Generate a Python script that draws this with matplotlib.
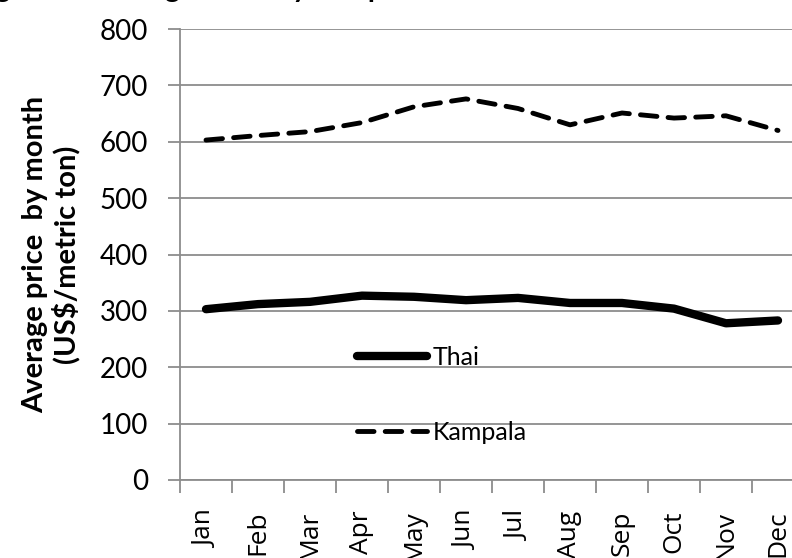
import matplotlib
matplotlib.use('Agg')
import matplotlib.pyplot as plt

# monthly values
months = ['Jan', 'Feb', 'Mar', 'Apr', 'May', 'Jun', 'Jul', 'Aug', 'Sep', 'Oct', 'Nov', 'Dec']
thai = [303, 312, 316, 327, 325, 319, 323, 314, 314, 304, 278, 283]
kampala = [603, 611, 618, 634, 662, 676, 659, 630, 651, 642, 646, 620]
yticks = [0, 100, 200, 300, 400, 500, 600, 700, 800]

plt.rcParams['font.family'] = ['Lato', 'DejaVu Sans']
grey = '#8c8c8c'

fig = plt.figure(figsize=(7.92, 5.58), dpi=100)
ax = fig.add_axes([180 / 792, 78 / 558, 624 / 792, 451 / 558])

x = list(range(len(months)))
ax.plot(x, thai, color='black', linewidth=6, solid_capstyle='round', label='Thai')
ax.plot(x, kampala, color='black', linewidth=3.5, linestyle=(0, (3.4, 2.3)),
        dash_capstyle='round', label='Kampala')

ax.set_xlim(-0.5, 11.5)
ax.set_ylim(0, 800)
ax.set_yticks(yticks)
ax.yaxis.grid(True, color=grey, linewidth=1.3)
ax.set_axisbelow(True)

# category labels between the tick marks, like Excel
ax.set_xticks([i - 0.5 for i in x], minor=False)
ax.set_xticklabels([])
ax.set_xticks(x, minor=True)
ax.set_xticklabels(months, minor=True, rotation=90, fontsize=19, family='Open Sans')
ax.tick_params(axis='x', which='minor', length=0, pad=22)
ax.tick_params(axis='x', which='major', length=9, color=grey, width=1.3)
ax.tick_params(axis='y', length=9, color=grey, width=1.3, labelsize=20, pad=14)

for s in ['top', 'right']:
    ax.spines[s].set_visible(False)
for s in ['left', 'bottom']:
    ax.spines[s].set_color(grey)
    ax.spines[s].set_linewidth(1.3)

ax.set_ylabel('Average price  by month\n(US$/metric ton)', fontsize=21,
              fontweight='bold', labelpad=14, linespacing=1.15)

ax.legend(loc='upper left', bbox_to_anchor=(0.283, 0.298), frameon=False,
          fontsize=18, handlelength=2.8, handletextpad=0.25, labelspacing=2.1,
          borderpad=0, borderaxespad=0)

# title mostly cut off at the top of the picture
fig.text(-0.035, 1.006, 'Figure 4: Average monthly rice price', fontsize=20.5,
         fontweight='bold', va='baseline', ha='left')

fig.savefig('out.png', dpi=100)
